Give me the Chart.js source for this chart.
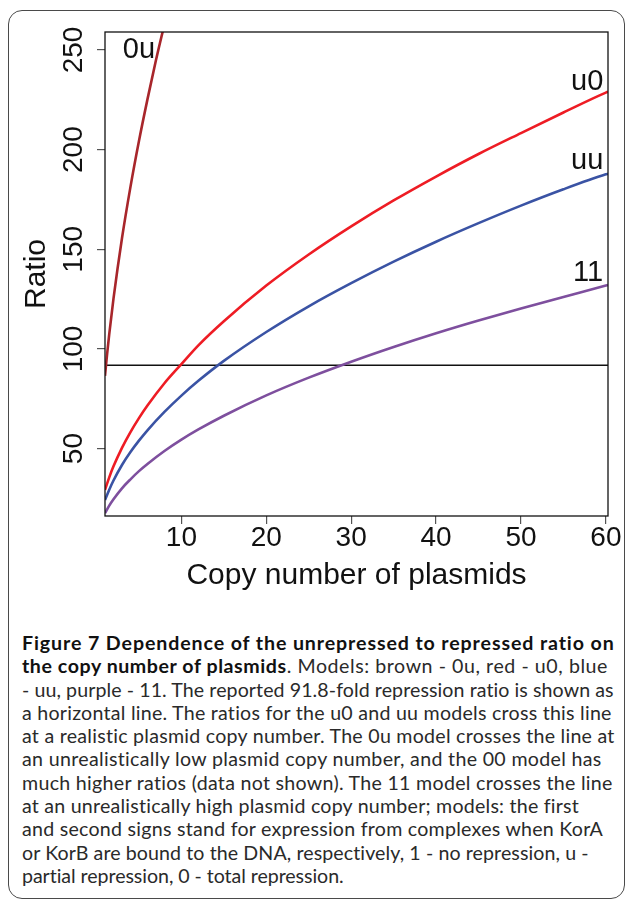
<!DOCTYPE html>
<html>
<head>
<meta charset="utf-8">
<script src="https://cdn.jsdelivr.net/npm/chart.js@4/dist/chart.umd.min.js"></script>
<style>
  html, body { margin: 0; padding: 0; background: #fff; }
  body { width: 627px; height: 902px; position: relative; overflow: hidden; }
  #frame {
    position: absolute; left: 8px; top: 10px; width: 617px; height: 889px;
    border: 1.5px solid #4a4a4a; border-radius: 14px; box-sizing: border-box;
  }
  #plot { position: absolute; left: 0; top: 0; }
  #caption {
    position: absolute; left: 22px; top: 631px;
    font-family: Lato, "Open Sans", sans-serif; font-size: 19.6px; line-height: 23.3px;
    color: #2a2a2a; white-space: nowrap;
  }
  #caption .ln { display: block; width: max-content; }
  #caption b { color: #111; font-weight: 700; }
</style>
</head>
<body>
<div id="frame"></div>
<canvas id="plot" width="627" height="600"></canvas>
<div id="caption">
<span class="ln" data-end="615"><b>Figure 7 Dependence of the unrepressed to repressed ratio on</b></span>
<span class="ln" data-end="608"><b>the copy number of plasmids</b>. Models: brown - 0u, red - u0, blue</span>
<span class="ln" data-end="614">- uu, purple - 11. The reported 91.8-fold repression ratio is shown as</span>
<span class="ln" data-end="612">a horizontal line. The ratios for the u0 and uu models cross this line</span>
<span class="ln" data-end="615">at a realistic plasmid copy number. The 0u model crosses the line at</span>
<span class="ln" data-end="602">an unrealistically low plasmid copy number, and the 00 model has</span>
<span class="ln" data-end="613">much higher ratios (data not shown). The 11 model crosses the line</span>
<span class="ln" data-end="579">at an unrealistically high plasmid copy number; models: the first</span>
<span class="ln" data-end="603">and second signs stand for expression from complexes when KorA</span>
<span class="ln" data-end="589">or KorB are bound to the DNA, respectively, 1 - no repression, u -</span>
<span class="ln" data-end="344">partial repression, 0 - total repression.</span>
</div>
<script>
// Copy number of plasmids (x) and unrepressed/repressed ratio (y) per model
const copyNumber = [1, 1.5, 2, 3, 4, 5, 6, 8, 10, 12, 15, 20, 25, 30, 35, 40, 45, 50, 55, 60, 60.25];
const ratioU0 = [29.3, 35.6, 41.1, 50.4, 58.3, 65.3, 71.6, 82.8, 92.4, 101.8, 113.9, 131.8, 147.4, 161.5, 174.5, 186.5, 197.8, 208.3, 218.6, 228.6, 229];
const ratioUU = [24.2, 29.4, 34.0, 41.8, 48.3, 54.0, 59.2, 68.4, 76.6, 84.0, 94.0, 108.5, 121.4, 133.0, 143.8, 153.8, 163.1, 171.9, 180.1, 187.6, 187.9];
const ratio11 = [17.6, 21.4, 24.6, 30.1, 34.6, 38.7, 42.3, 48.8, 54.5, 59.6, 66.5, 76.7, 85.6, 93.6, 101.0, 107.9, 114.3, 120.3, 126.1, 131.8, 132.1];

const copyNumber0U = [1, 1.25, 1.5, 2, 3, 4, 5, 6, 7, 8, 9];
const ratio0U = [86.5, 97.5, 107.4, 125.2, 155.5, 181.3, 204.3, 225.2, 244.8, 262.8, 279.9];

// Reported repression ratio
const reportedRatio = 91.8;
const copyRange = [1, 60.25];

const xTicks = [10, 20, 30, 40, 50, 60];
const yTicks = [50, 100, 150, 200, 250];

// Model names written next to their curves, in data coordinates
const modelLabels = [
  { text: '0u', x: 5.0, y: 250.0 },
  { text: 'u0', x: 57.8, y: 234.0 },
  { text: 'uu', x: 57.8, y: 194.5 },
  { text: '11', x: 57.9, y: 138.0 }
];

const AXIS_FONT = '"Liberation Sans", Arial, sans-serif';
const pts = (xs, ys) => xs.map((x, i) => ({ x, y: ys[i] }));

const curve = (label, data, color) => ({
  label, data, borderColor: color, borderWidth: 2.6, pointRadius: 0,
  cubicInterpolationMode: 'monotone', clip: 0, fill: false
});

const framePlugin = {
  id: 'frameAndLabels',
  afterDatasetsDraw(chart) {
    const { ctx, chartArea: a, scales: { x, y } } = chart;
    ctx.save();
    // plot box
    ctx.strokeStyle = '#111';
    ctx.lineWidth = 1.3;
    ctx.strokeRect(a.left, a.top, a.right - a.left, a.bottom - a.top);

    // y tick labels, written along the axis
    ctx.fillStyle = '#111';
    ctx.font = '28px ' + AXIS_FONT;
    ctx.textAlign = 'center';
    ctx.textBaseline = 'middle';
    y.ticks.forEach(t => {
      const py = y.getPixelForValue(t.value);
      ctx.save();
      ctx.translate(a.left - 31, py);
      ctx.rotate(-Math.PI / 2);
      ctx.fillText(String(t.value), 0, 0);
      ctx.restore();
    });

    // model names
    ctx.font = '29px ' + AXIS_FONT;
    modelLabels.forEach(m => {
      ctx.fillText(m.text, x.getPixelForValue(m.x), y.getPixelForValue(m.y));
    });
    ctx.restore();
  }
};

new Chart(document.getElementById('plot'), {
  type: 'line',
  data: {
    datasets: [
      curve('0u', pts(copyNumber0U, ratio0U), '#a8262b'),
      curve('u0', pts(copyNumber, ratioU0), '#ee1c24'),
      curve('uu', pts(copyNumber, ratioUU), '#3a53a4'),
      curve('11', pts(copyNumber, ratio11), '#7e4f9e'),
      {
        label: '91.8-fold', data: copyRange.map(c => ({ x: c, y: reportedRatio })),
        borderColor: '#111', borderWidth: 1.6, pointRadius: 0, clip: 0
      }
    ]
  },
  options: {
    responsive: false,
    animation: false,
    devicePixelRatio: 1,
    layout: { padding: { left: 10, top: 32, right: 19, bottom: 6 } },
    plugins: { legend: { display: false }, tooltip: { enabled: false } },
    scales: {
      x: {
        type: 'linear', min: 1, max: 60.25,
        afterBuildTicks: s => { s.ticks = xTicks.map(v => ({ value: v })); },
        grid: { drawOnChartArea: false, drawTicks: true, tickLength: 8, tickColor: '#555', lineWidth: 1.2 },
        border: { display: false },
        ticks: { color: '#111', padding: -3, font: { family: AXIS_FONT, size: 28 }, maxRotation: 0 },
        title: {
          display: true, text: 'Copy number of plasmids', color: '#111',
          font: { family: AXIS_FONT, size: 30 }, padding: { top: 6.4, bottom: 0 }
        }
      },
      y: {
        type: 'linear', min: 16.2, max: 259,
        afterBuildTicks: s => { s.ticks = yTicks.map(v => ({ value: v })); },
        grid: { drawOnChartArea: false, drawTicks: true, tickLength: 8, tickColor: '#555', lineWidth: 1.2 },
        border: { display: false },
        ticks: { display: false },
        title: {
          display: true, text: 'Ratio', color: '#111',
          font: { family: AXIS_FONT, size: 30 }, padding: { top: 9, bottom: 42 }
        }
      }
    }
  },
  plugins: [framePlugin]
});

// stretch each caption line so it ends where the text column's line ends
(function fitCaption() {
  const cap = document.getElementById('caption');
  const left = cap.getBoundingClientRect().left;
  cap.querySelectorAll('.ln').forEach(line => {
    const target = Number(line.dataset.end) - left;
    const w = line.getBoundingClientRect().width;
    const n = line.textContent.length;
    line.style.letterSpacing = ((target - w) / n).toFixed(3) + 'px';
  });
})();
</script>
</body>
</html>
